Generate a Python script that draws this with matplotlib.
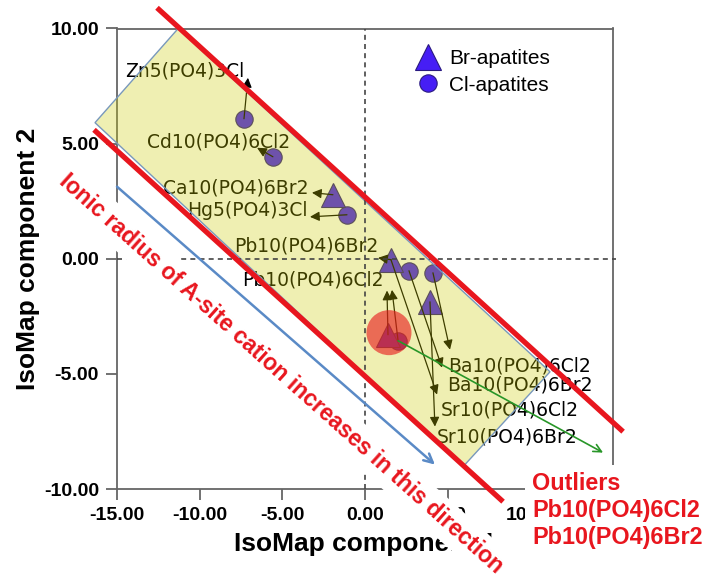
import matplotlib
matplotlib.use("Agg")
from matplotlib import pyplot as plt
from matplotlib.lines import Line2D
from matplotlib.patches import Polygon

# Cl-apatites (circles) and Br-apatites (triangles)
cl_x = [-7.32, -5.57, -1.09, 2.66, 4.11, 2.00]
cl_y = [6.08, 4.43, 1.91, -0.52, -0.61, -3.56]
br_x = [-1.94, 1.57, 3.93, 1.39]
br_y = [2.78, -0.04, -1.87, -3.30]

# arrows: tail (point) -> head
arr_x0 = [-7.32, -5.57, -1.94, -1.09, 1.39, 2.00, 1.57, 1.57, 2.66, 4.11, 3.93]
arr_y0 = [6.08, 4.43, 2.78, 1.91, -3.30, -3.56, -0.04, -0.04, -0.52, -0.61, -1.87]
arr_x1 = [-7.08, -6.53, -3.21, -3.33, 1.33, 1.63, 0.79, 4.36, 4.66, 5.14, 4.23]
arr_y1 = [7.86, 4.82, 2.87, 1.82, -1.38, -1.35, 0.04, -5.90, -4.73, -3.95, -7.29]

names = ["Zn5(PO4)3Cl", "Cd10(PO4)6Cl2", "Ca10(PO4)6Br2", "Hg5(PO4)3Cl",
         "Pb10(PO4)6Br2", "Pb10(PO4)6Cl2", "Ba10(PO4)6Cl2", "Ba10(PO4)6Br2",
         "Sr10(PO4)6Cl2", "Sr10(PO4)6Br2"]
name_x = [-14.52, -13.19, -12.22, -10.77, -7.93, -7.44, 5.02, 4.96, 4.60, 4.36]
name_y = [8.16, 5.08, 3.08, 2.08, 0.56, -0.91, -4.65, -5.47, -6.56, -7.73]

# shaded band and guide lines
band_x = [-11.3, -16.33, 5.93, 11.19]
band_y = [10.0, 5.91, -9.03, -4.91]
red_up_x = [-12.58, 15.61]
red_up_y = [10.9, -7.51]
red_lo_x = [-16.39, 8.35]
red_lo_y = [5.60, -10.55]
blue_x = [-15.0, 4.23]
blue_y = [3.13, -8.94]
green_x = [2.00, 14.4]
green_y = [-3.56, -8.42]
outlier_xy = (1.45, -3.21)

ticks_x = [-15, -10, -5, 0, 5, 10, 15]
ticks_y = [-10, -5, 0, 5, 10]

BLUE = "#461EF5"
RED = "#E8161E"

fig = plt.figure(figsize=(7.04, 5.8), dpi=100)
ax = fig.add_axes([117 / 704, 1 - 489 / 580, 496 / 704, 460.5 / 580])
ax.set_xlim(-15, 15)
ax.set_ylim(-10, 10)

ax.plot(cl_x, cl_y, "o", ms=12.5, color=BLUE, mec="#2a1a80", mew=0.8, zorder=3)
ax.plot(br_x, br_y, "^", ms=17, color=BLUE, mec="#2a1a80", mew=0.8, zorder=3)

for x0, y0, x1, y1 in zip(arr_x0, arr_y0, arr_x1, arr_y1):
    ax.annotate("", xy=(x1, y1), xytext=(x0, y0),
                arrowprops=dict(arrowstyle="-|>", color="k", lw=0.9,
                                mutation_scale=14, shrinkA=0, shrinkB=0),
                zorder=3)

for n, x, y in zip(names, name_x, name_y):
    ax.text(x, y, n, fontsize=13.5, color="k", ha="left", va="center", zorder=3)

band = Polygon(list(zip(band_x, band_y)), closed=True,
               facecolor=(205 / 255, 205 / 255, 0, 0.3),
               edgecolor="#7898bc", lw=1, zorder=4, clip_on=False)
ax.add_patch(band)

ax.axvline(0, color="#444444", lw=1.2, ls=(0, (3, 2.5)), zorder=5)
ax.plot([-15, 15.2], [0, 0], color="#444444", lw=1.2, ls=(0, (3, 2.5)),
        zorder=5, clip_on=False)

ax.scatter([outlier_xy[0]], [outlier_xy[1]], s=1050, color=(232 / 255, 26 / 255, 28 / 255),
           alpha=0.62, edgecolors="none", zorder=6)

ax.annotate("", xy=(green_x[1], green_y[1]), xytext=(green_x[0], green_y[0]),
            arrowprops=dict(arrowstyle="->", color="#289628", lw=1.2,
                            mutation_scale=14, shrinkA=0, shrinkB=0),
            zorder=7, annotation_clip=False)

ax.text(-5.08, -4.99, "Ionic radius of A-site cation increases in this direction",
        rotation=-41.8, rotation_mode="anchor", ha="center", va="center",
        fontsize=16.5, fontweight="bold", color=RED, family="Liberation Sans",
        bbox=dict(facecolor="white", edgecolor="none", pad=5),
        zorder=8, clip_on=False)

ax.annotate("", xy=(blue_x[1], blue_y[1]), xytext=(blue_x[0], blue_y[0]),
            arrowprops=dict(arrowstyle="->", color="#5a8ac6", lw=1.8,
                            mutation_scale=16, shrinkA=0, shrinkB=0),
            zorder=9, annotation_clip=False)
ax.plot(red_up_x, red_up_y, color=RED, lw=3.8, zorder=10, clip_on=False,
        solid_capstyle="butt")
ax.plot(red_lo_x, red_lo_y, color=RED, lw=3.8, zorder=10, clip_on=False,
        solid_capstyle="butt")

ax.text(10.1, -10.95, "Outliers\nPb10(PO4)6Cl2\nPb10(PO4)6Br2", ha="left", va="center",
        fontsize=16.8, fontweight="bold", color=RED, family="Liberation Sans",
        linespacing=1.22, bbox=dict(facecolor="white", edgecolor="none", pad=5),
        zorder=11, clip_on=False)

ax.set_xticks(ticks_x)
ax.set_yticks(ticks_y)
ax.set_xticklabels(["%.2f" % t for t in ticks_x])
ax.set_yticklabels(["%.2f" % t for t in ticks_y])
for lab in ax.get_xticklabels() + ax.get_yticklabels():
    lab.set_family("Liberation Sans")
    lab.set_fontweight("bold")
    lab.set_fontsize(14)
ax.tick_params(direction="out", length=8, width=1.3, color="#666666", pad=5)
for sp in ax.spines.values():
    sp.set_color("#666666")
    sp.set_linewidth(1.3)

ax.set_xlabel("IsoMap component 1", fontsize=19, fontweight="bold", family="Liberation Sans")
ax.set_ylabel("IsoMap component 2", fontsize=19, fontweight="bold", family="Liberation Sans")
ax.xaxis.set_label_coords(0.5, -0.093)
ax.yaxis.set_label_coords(-0.155, 0.5)

handles = [Line2D([], [], ls="none", marker="^", ms=19, color=BLUE, mec="#2a1a80", mew=0.8),
           Line2D([], [], ls="none", marker="o", ms=12.5, color=BLUE, mec="#2a1a80", mew=0.8)]
ax.legend(handles, ["Br-apatites", "Cl-apatites"], loc="upper left",
          bbox_to_anchor=(0.601, 0.955), frameon=False, borderpad=0, borderaxespad=0,
          handlelength=1.2, handletextpad=0.45, labelspacing=0.35,
          prop={"family": "Liberation Sans", "size": 15})

fig.savefig("out.png", dpi=100)
